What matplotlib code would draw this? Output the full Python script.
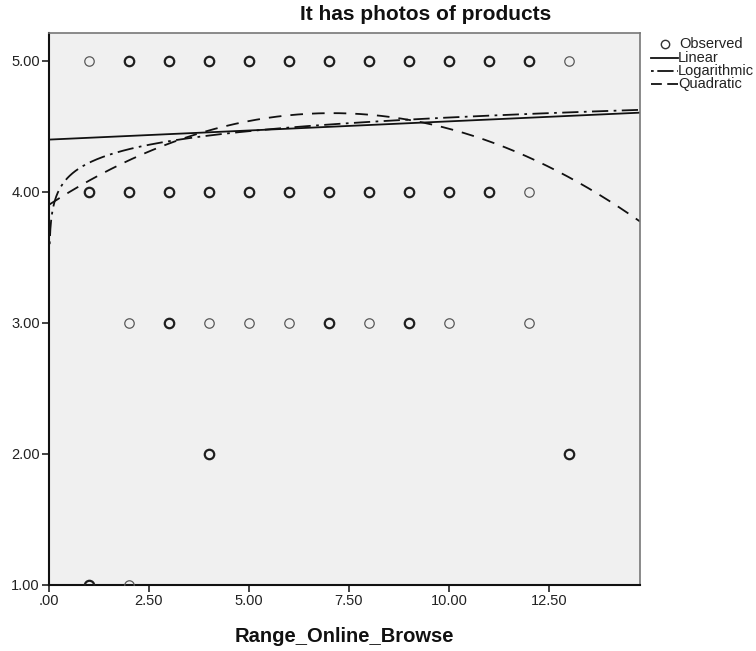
import matplotlib
matplotlib.use("Agg")
import matplotlib.pyplot as plt
import numpy as np
from matplotlib.lines import Line2D

plt.rcParams['font.family'] = ['Liberation Sans', 'DejaVu Sans']

# Observed points (x, y) and an overlap weight (1 = single, 2 = several)
obs_x = [1, 2, 3, 4, 5, 6, 7, 8, 9, 10, 11, 12, 13,
         1, 2, 3, 4, 5, 6, 7, 8, 9, 10, 11, 12,
         2, 3, 4, 5, 6, 7, 8, 9, 10, 12,
         4, 13,
         1, 2]
obs_y = [5]*13 + [4]*12 + [3]*10 + [2]*2 + [1]*2
obs_w = [1, 2, 2, 2, 2, 2, 2, 2, 2, 2, 2, 2, 1,
         2, 2, 2, 2, 2, 2, 2, 2, 2, 2, 2, 1,
         1, 2, 1, 1, 1, 2, 1, 2, 1, 1,
         2, 2,
         2, 1]

# Fitted model coefficients
lin_coef = [4.397, 0.0139]          # a + b*x
log_coef = [4.22, 0.15]             # a + b*ln(x)
quad_coef = [3.90, 0.1974, -0.01394]  # a + b*x + c*x^2

x_min, x_max = 0.0, 14.78
y_min, y_max = 1.0, 5.21
xticks = [0, 2.5, 5, 7.5, 10, 12.5]
xtick_labels = ['.00', '2.50', '5.00', '7.50', '10.00', '12.50']
yticks = [1, 2, 3, 4, 5]
ytick_labels = ['1.00', '2.00', '3.00', '4.00', '5.00']

fig = plt.figure(figsize=(7.56, 6.51), dpi=100)
ax = fig.add_axes([49/756, 1-585/651, (640-49)/756, (585-33)/651])
ax.set_facecolor('#F0F0F0')

for x, y, w in zip(obs_x, obs_y, obs_w):
    if w == 2:
        ax.plot(x, y, 'o', ms=6.8, mfc='none', mec='#1e1e1e', mew=1.6, clip_on=True, zorder=3)
    else:
        ax.plot(x, y, 'o', ms=6.8, mfc='none', mec='#5a5a5a', mew=0.9, clip_on=True, zorder=3)

xs = np.linspace(x_min, x_max, 400)
ax.plot(xs, lin_coef[0] + lin_coef[1]*xs, color='#111111', lw=1.3, zorder=2)
xl = np.linspace(0.016, x_max, 800)
ax.plot(xl, log_coef[0] + log_coef[1]*np.log(xl), color='#111111', lw=1.3,
        dashes=(1.5, 3, 9, 3), zorder=2)
ax.plot(xs, quad_coef[0] + quad_coef[1]*xs + quad_coef[2]*xs**2, color='#111111', lw=1.3,
        dashes=(7, 5), zorder=2)

ax.set_xlim(x_min, x_max)
ax.set_ylim(y_min, y_max)
ax.set_xticks(xticks)
ax.set_xticklabels(xtick_labels)
ax.set_yticks(yticks)
ax.set_yticklabels(ytick_labels)
ax.tick_params(direction='out', length=5, width=1.2, color='#222222', labelsize=10.5,
               labelcolor='#222222', pad=1.5)
for s in ['left', 'bottom']:
    ax.spines[s].set_color('#111111')
    ax.spines[s].set_linewidth(1.5)
for s in ['top', 'right']:
    ax.spines[s].set_color('#777777')
    ax.spines[s].set_linewidth(1.2)

fig.text(426/756, 1-14/651, 'It has photos of products', ha='center', va='center',
         fontsize=15, fontweight='bold', color='#111111')
fig.text(344/756, 1-636/651, 'Range_Online_Browse', ha='center', va='center',
         fontsize=14.5, fontweight='bold', color='#111111')

# Legend (drawn manually)
lx0, lx1 = 651/756, 678/756
fig.add_artist(Line2D([665/756], [1-44/651], marker='o', ms=6, mfc='none', mec='#333333', mew=1.0,
                      linestyle='none', transform=fig.transFigure))
fig.text(679/756, 1-44/651, 'Observed', va='center', fontsize=10.5, color='#222222')
fig.add_artist(Line2D([lx0, lx1], [1-58/651]*2, color='#111111', lw=1.3, transform=fig.transFigure))
fig.text(678/756, 1-58/651, 'Linear', va='center', fontsize=10.5, color='#222222')
fig.add_artist(Line2D([lx0, lx1], [1-71/651]*2, color='#111111', lw=1.3, dashes=(1.5, 2, 9, 2),
                      transform=fig.transFigure))
fig.text(678/756, 1-71/651, 'Logarithmic', va='center', fontsize=10.5, color='#222222')
fig.add_artist(Line2D([lx0, lx1], [1-84/651]*2, color='#111111', lw=1.3, dashes=(6, 3),
                      transform=fig.transFigure))
fig.text(678/756, 1-84/651, 'Quadratic', va='center', fontsize=10.5, color='#222222')

fig.savefig('out.png', dpi=100)
